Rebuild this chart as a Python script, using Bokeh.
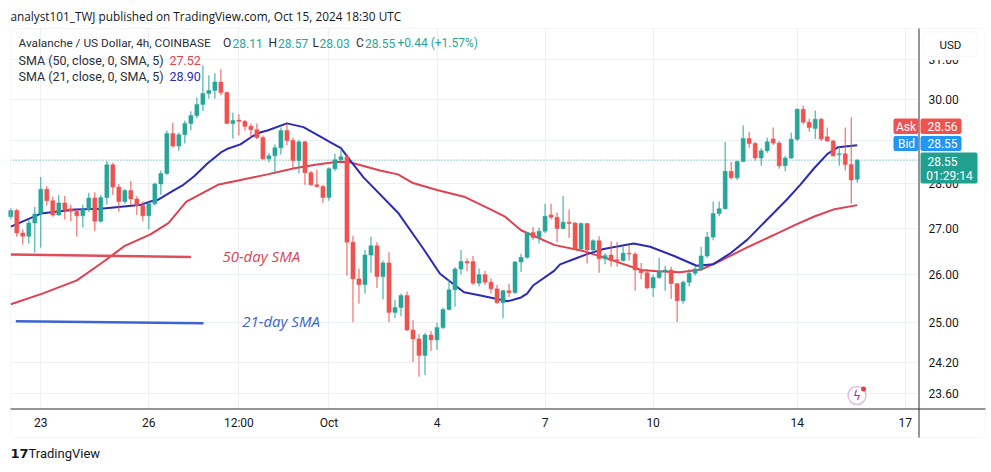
import math
import pandas as pd
from bokeh.plotting import figure
from bokeh.models import (ColumnDataSource, FixedTicker, PrintfTickFormatter, Label,
                          BoxAnnotation, Span, Range1d)
from bokeh.embed import file_html
from bokeh.resources import INLINE

# ---------------- data (AVAX/USD, 4h candles) ----------------
first_bar = "2024-09-22 04:00"

opens = [27.26, 27.40, 26.90, 26.83, 27.12, 27.32, 27.88, 27.62, 27.30, 27.57,
         27.44, 27.38, 27.28, 27.42, 27.68, 27.16, 27.69, 28.44, 27.93, 27.60,
         27.85, 27.66, 27.51, 27.28, 27.55, 28.00, 28.24, 29.18, 28.88, 29.15,
         29.42, 29.61, 29.88, 30.15, 30.22, 30.43, 30.17, 29.42, 29.50, 29.47,
         29.35, 29.27, 29.08, 28.58, 28.65, 28.84, 29.25, 29.01, 28.54, 28.98,
         28.26, 27.98, 27.94, 27.69, 28.35, 28.56, 28.63, 26.70, 25.91, 25.79,
         26.42, 26.62, 25.96, 26.25, 25.21, 25.31, 25.56, 24.85, 24.67, 24.34,
         24.75, 24.65, 24.90, 25.27, 25.68, 26.12, 26.28, 26.28, 25.82, 26.00,
         25.84, 25.70, 25.41, 25.66, 25.62, 26.27, 26.37, 26.91, 26.80, 26.94,
         27.30, 27.25, 27.00, 27.14, 27.12, 26.55, 27.11, 26.53, 26.73, 26.34,
         26.42, 26.32, 26.30, 26.46, 26.44, 26.10, 26.04, 25.72, 25.94, 26.08,
         26.10, 25.81, 25.45, 25.84, 26.03, 26.12, 26.40, 26.81, 27.33, 27.44,
         28.29, 28.14, 28.52, 29.06, 28.94, 28.60, 28.77, 29.05, 28.95, 28.42,
         28.60, 29.04, 29.76, 29.45, 29.30, 29.52, 29.10, 29.00, 28.68, 28.70,
         28.45, 28.11]

highs = [27.45, 27.44, 26.98, 27.20, 27.48, 28.16, 27.95, 27.71, 27.75, 27.73,
         27.53, 27.42, 27.53, 27.80, 27.81, 27.75, 28.53, 28.49, 28.00, 27.88,
         28.07, 27.72, 27.60, 27.60, 28.03, 28.31, 29.25, 29.43, 29.20, 29.49,
         29.71, 30.05, 30.85, 30.60, 30.65, 30.75, 30.20, 29.68, 29.64, 29.50,
         29.42, 29.42, 29.13, 28.72, 28.92, 29.32, 29.40, 29.08, 29.02, 29.00,
         28.30, 28.33, 27.98, 28.38, 28.70, 28.80, 28.70, 26.84, 26.13, 26.53,
         26.82, 26.70, 26.30, 26.48, 25.47, 25.60, 25.64, 25.05, 24.77, 24.79,
         24.83, 25.00, 25.31, 25.89, 26.16, 26.53, 26.35, 26.40, 26.13, 26.08,
         25.92, 25.78, 25.68, 25.81, 26.29, 26.45, 26.92, 27.03, 27.02, 27.55,
         27.55, 27.35, 27.73, 27.42, 27.14, 27.13, 27.12, 26.76, 26.83, 26.46,
         26.72, 26.70, 26.60, 26.62, 26.48, 26.25, 26.12, 26.00, 26.36, 26.19,
         26.17, 25.82, 25.87, 26.12, 26.19, 26.60, 26.92, 27.60, 27.60, 28.98,
         28.51, 28.54, 29.37, 29.22, 28.98, 28.83, 29.08, 29.32, 29.00, 28.65,
         29.20, 29.79, 29.85, 29.53, 29.73, 29.55, 29.32, 29.03, 28.87, 29.32,
         29.57, 28.57]

lows = [27.20, 26.82, 26.65, 26.67, 26.47, 26.58, 27.51, 27.26, 27.28, 27.20,
        27.16, 26.82, 27.02, 27.37, 26.94, 27.13, 27.53, 27.75, 27.37, 27.55,
        27.53, 27.30, 27.16, 26.98, 27.51, 27.75, 28.20, 28.84, 28.77, 28.94,
        29.25, 29.55, 29.72, 30.02, 30.02, 30.10, 29.40, 29.06, 29.13, 29.25,
        29.08, 29.04, 28.56, 28.50, 28.24, 28.68, 28.90, 28.35, 28.24, 27.98,
        27.95, 27.92, 27.57, 27.62, 28.30, 28.52, 25.98, 25.01, 25.39, 25.60,
        26.04, 25.72, 25.48, 25.01, 25.09, 25.13, 24.83, 24.21, 23.92, 23.95,
        24.43, 24.45, 24.87, 25.25, 25.33, 26.00, 26.08, 25.78, 25.75, 25.78,
        25.60, 25.39, 25.09, 25.53, 25.60, 26.06, 26.34, 26.75, 26.67, 26.90,
        27.20, 26.70, 26.98, 26.79, 26.53, 26.53, 26.24, 26.48, 26.04, 26.22,
        26.17, 26.17, 26.28, 26.30, 25.66, 25.90, 25.70, 25.53, 25.91, 25.66,
        25.49, 25.01, 25.39, 25.75, 25.98, 26.08, 26.36, 26.74, 27.27, 27.42,
        28.10, 28.09, 28.50, 28.84, 28.54, 28.42, 28.72, 28.90, 28.35, 28.29,
        28.58, 29.00, 29.40, 29.22, 29.05, 29.00, 28.98, 28.63, 28.42, 28.31,
        27.55, 28.03]

closes = [27.40, 26.90, 26.83, 27.12, 27.32, 27.88, 27.62, 27.30, 27.57, 27.40,
          27.38, 27.28, 27.42, 27.68, 27.16, 27.69, 28.44, 27.93, 27.60, 27.85,
          27.66, 27.51, 27.28, 27.55, 28.00, 28.24, 29.18, 28.88, 29.15, 29.42,
          29.61, 29.88, 30.15, 30.22, 30.43, 30.17, 29.42, 29.49, 29.47, 29.35,
          29.27, 29.08, 28.58, 28.65, 28.84, 29.25, 29.01, 28.54, 28.98, 28.26,
          27.98, 27.94, 27.69, 28.35, 28.56, 28.63, 26.70, 25.91, 25.79, 26.42,
          26.62, 25.96, 26.25, 25.21, 25.31, 25.56, 24.85, 24.67, 24.34, 24.75,
          24.65, 24.90, 25.27, 25.68, 26.12, 26.28, 26.25, 25.82, 26.00, 25.84,
          25.70, 25.41, 25.66, 25.62, 26.27, 26.37, 26.91, 26.80, 26.94, 27.27,
          27.25, 27.00, 27.14, 27.11, 26.55, 27.11, 26.53, 26.73, 26.34, 26.41,
          26.30, 26.30, 26.46, 26.44, 26.10, 26.04, 25.72, 25.94, 26.08, 26.10,
          25.81, 25.45, 25.84, 26.03, 26.12, 26.40, 26.81, 27.33, 27.44, 28.29,
          28.14, 28.52, 29.06, 28.94, 28.60, 28.77, 28.98, 28.95, 28.42, 28.60,
          29.04, 29.76, 29.45, 29.32, 29.52, 29.05, 29.00, 28.65, 28.70, 28.45,
          28.09, 28.55]

sma21_times = ["2024-09-22 04:00", "2024-09-23 00:00", "2024-09-23 23:00", "2024-09-24 16:00",
               "2024-09-25 19:00", "2024-09-26 01:00", "2024-09-26 06:00", "2024-09-26 16:00",
               "2024-09-26 23:00", "2024-09-27 06:00", "2024-09-27 15:00", "2024-09-28 00:00",
               "2024-09-28 04:00", "2024-09-28 13:00", "2024-09-28 20:00", "2024-09-29 02:00",
               "2024-09-29 07:00", "2024-09-29 20:00", "2024-09-30 07:00", "2024-09-30 21:00",
               "2024-10-01 01:00", "2024-10-01 08:00", "2024-10-01 14:00", "2024-10-01 23:00",
               "2024-10-02 22:00", "2024-10-03 15:00", "2024-10-04 02:00", "2024-10-04 18:00",
               "2024-10-05 05:00", "2024-10-05 16:00", "2024-10-05 23:00", "2024-10-06 08:00",
               "2024-10-06 12:00", "2024-10-06 16:00", "2024-10-07 06:00", "2024-10-07 10:00",
               "2024-10-07 19:00", "2024-10-08 04:00", "2024-10-08 15:00", "2024-10-09 11:00",
               "2024-10-09 22:00", "2024-10-10 14:00", "2024-10-11 05:00", "2024-10-11 16:00",
               "2024-10-12 04:00", "2024-10-12 15:00", "2024-10-13 04:00", "2024-10-13 17:00",
               "2024-10-14 02:00", "2024-10-14 11:00", "2024-10-14 20:00", "2024-10-15 03:00",
               "2024-10-15 16:00"]
sma21_vals = [27.04, 27.33, 27.42, 27.44, 27.53, 27.60, 27.64, 27.84,
              27.98, 28.17, 28.47, 28.73, 28.81, 28.92, 29.09, 29.20,
              29.25, 29.42, 29.33, 29.05, 28.97, 28.83, 28.55, 28.15,
              27.35, 26.55, 26.02, 25.63, 25.56, 25.49, 25.44, 25.52,
              25.60, 25.77, 26.08, 26.22, 26.33, 26.44, 26.55, 26.67,
              26.60, 26.40, 26.19, 26.22, 26.47, 26.76, 27.20, 27.64,
              27.98, 28.35, 28.69, 28.85, 28.90]

sma50_times = ["2024-09-22 04:00", "2024-09-23 01:00", "2024-09-24 00:00", "2024-09-24 17:00",
               "2024-09-25 01:00", "2024-09-25 08:00", "2024-09-26 01:00", "2024-09-26 13:00",
               "2024-09-27 01:00", "2024-09-27 22:00", "2024-09-28 13:00", "2024-09-29 07:00",
               "2024-09-30 01:00", "2024-09-30 16:00", "2024-10-01 06:00", "2024-10-01 14:00",
               "2024-10-02 10:00", "2024-10-02 22:00", "2024-10-03 08:00", "2024-10-04 00:00",
               "2024-10-04 18:00", "2024-10-05 12:00", "2024-10-05 21:00", "2024-10-06 08:00",
               "2024-10-07 06:00", "2024-10-08 02:00", "2024-10-08 15:00", "2024-10-09 16:00",
               "2024-10-10 03:00", "2024-10-10 18:00", "2024-10-11 08:00", "2024-10-11 23:00",
               "2024-10-12 15:00", "2024-10-13 08:00", "2024-10-13 22:00", "2024-10-14 11:00",
               "2024-10-15 00:00", "2024-10-15 16:00"]
sma50_vals = [25.38, 25.60, 25.88, 26.26, 26.45, 26.62, 26.87, 27.12,
              27.60, 27.98, 28.09, 28.22, 28.36, 28.45, 28.51, 28.50,
              28.31, 28.22, 28.02, 27.86, 27.71, 27.42, 27.27, 26.96,
              26.64, 26.50, 26.37, 26.10, 26.07, 26.05, 26.11, 26.33,
              26.59, 26.85, 27.07, 27.26, 27.42, 27.52]

# drawn trend lines (annotations on the chart)
line50_times = ["2024-09-22 04:00", "2024-09-27 04:00"]
line50_vals = [26.43, 26.38]
line21_times = ["2024-09-22 07:20", "2024-09-27 12:25"]
line21_vals = [25.03, 24.99]
label50_pos = ("2024-09-28 01:00", 26.40)
label21_pos = ("2024-09-28 14:10", 25.04)

last_price = 28.55
y_ticks = [23.6, 24.2, 25.0, 26.0, 27.0, 28.0, 29.0, 30.0, 31.0]
x_tick_dates = ["2024-09-23", "2024-09-26", "2024-09-28 12:00", "2024-10-01",
                "2024-10-04", "2024-10-07", "2024-10-10", "2024-10-14", "2024-10-17"]
x_tick_labels = ["23", "26", "12:00", "Oct", "4", "7", "10", "14", "17"]

# ---------------- layout / styling ----------------
UP, DOWN = "#26a69a", "#ef5350"
SMA50_C, SMA21_C = "#e0404f", "#2b2bb5"
TXT = "#131722"
GRAY_TXT = "#2a2e39"
W, H = 991, 472

# pixel geometry of the pane (page pixels)
BAR_MS = 4 * 3600 * 1000
PX_PER_BAR = 6.003     # horizontal spacing of 4h bars
X_FIRST = 10.3         # x of the first bar
P_REF, Y_REF, PX_PER_LN = 30.0, 99.0, 1224.0   # log price scale


def ms(s):
    return pd.Timestamp(s).value / 1e6


T0 = ms(first_bar)


def px_x(X):
    return T0 + (X - X_FIRST) / PX_PER_BAR * BAR_MS


def px_y(Y):
    return P_REF * math.exp(-(Y - Y_REF) / PX_PER_LN)


times = pd.date_range(first_bar, periods=len(opens), freq="4h")
colors = [UP if c >= o else DOWN for o, c in zip(opens, closes)]
src = ColumnDataSource(dict(
    t=times, h=highs, l=lows,
    top=[max(o, c) for o, c in zip(opens, closes)],
    bot=[min(o, c) for o, c in zip(opens, closes)],
    col=colors))

p = figure(width=W, height=H, x_axis_type="datetime", y_axis_type="log",
           x_range=Range1d(px_x(0), px_x(W)), y_range=Range1d(px_y(H), px_y(0)),
           y_axis_location="right", toolbar_location=None, output_backend="svg",
           min_border_left=0, min_border_right=0, min_border_top=0, min_border_bottom=0)
p.title.visible = False
p.outline_line_color = None
p.background_fill_color = "white"
p.border_fill_color = "white"

# axes (pinned to the pane edges)
p.xaxis.ticker = FixedTicker(ticks=[ms(d) for d in x_tick_dates])
p.xaxis.major_label_overrides = {ms(d): s for d, s in zip(x_tick_dates, x_tick_labels)}
p.yaxis.ticker = FixedTicker(ticks=y_ticks)
p.yaxis.formatter = PrintfTickFormatter(format="%.2f")
p.xaxis.fixed_location = px_y(408)
p.yaxis.fixed_location = px_x(918)
for ax in (p.xaxis[0], p.yaxis[0]):
    ax.axis_line_color = None
    ax.major_tick_line_color = None
    ax.minor_tick_line_color = None
    ax.major_tick_out = 0
    ax.major_tick_in = 0
    ax.major_label_text_font = "Roboto"
    ax.major_label_text_font_size = "12px"
    ax.major_label_text_color = TXT
p.yaxis.major_label_standoff = 10
p.xaxis.major_label_standoff = 7
p.grid.grid_line_color = "#edf0f5"
p.grid.grid_line_width = 1


def box(x0, y0, x1, y1, fill, line=None, radius=0, lw=1, level="annotation"):
    p.add_layout(BoxAnnotation(left=x0, right=x1, top=H - y0, bottom=H - y1,
                               left_units="screen", right_units="screen",
                               top_units="screen", bottom_units="screen",
                               fill_color=fill if fill else "white", fill_alpha=1 if fill else 0,
                               line_color=line, line_width=lw, border_radius=radius,
                               level=level))


def lab(text, x, y, color=TXT, size="12px", font="Roboto", align="left", style="normal"):
    p.add_layout(Label(x=x, y=H - y, x_units="screen", y_units="screen", text=text,
                       text_color=color, text_font=font, text_font_size=size,
                       text_align=align, text_baseline="middle", text_font_style=style))


# current price dotted line (underlay, trimmed by the margin strips)
p.add_layout(Span(location=last_price, dimension="width", line_color=UP,
                  line_dash="1 2", line_width=1, level="underlay"))

# white strips outside the price pane hide the grid there
box(0, 0, W, 28, "white", level="underlay")
box(0, 408, W, H, "white", level="underlay")
box(0, 0, 10, H, "white", level="underlay")
box(918, 0, W, H, "white", level="underlay")

# SMA lines
p.line(x=pd.to_datetime(sma50_times), y=sma50_vals, line_color=SMA50_C, line_width=2)
p.line(x=pd.to_datetime(sma21_times), y=sma21_vals, line_color=SMA21_C, line_width=2)

# candles
p.segment(x0="t", y0="l", x1="t", y1="h", line_color="col", line_width=1, source=src)
p.vbar(x="t", width=BAR_MS * 0.68, top="top", bottom="bot",
       fill_color="col", line_color="col", line_width=0.5, source=src)

# drawn annotation lines and labels
p.line(x=pd.to_datetime(line50_times), y=line50_vals, line_color="#e04c5c", line_width=2.5)
p.line(x=pd.to_datetime(line21_times), y=line21_vals, line_color="#3d63d6", line_width=2.5)
p.add_layout(Label(x=ms(label50_pos[0]), y=label50_pos[1], text="50-day SMA",
                   text_color="#d9465a", text_font="Open Sans", text_font_size="15px",
                   text_font_style="italic", text_baseline="middle"))
p.add_layout(Label(x=ms(label21_pos[0]), y=label21_pos[1], text="21-day SMA",
                   text_color="#3a62d0", text_font="Open Sans", text_font_size="15px",
                   text_font_style="italic", text_baseline="middle"))

# pane border and axis lines
box(10, 28, 985, 437, None, line="#e0e3eb", radius=4)
box(10, 408, 985, 409, "#2a2e39")
box(918, 28, 919, 437, "#2a2e39")

# price boxes on the right axis
box(923, 31.5, 977, 59.5, "white")
box(923, 31.5, 977, 56, "white", line="#e0e3eb", radius=4)
lab("USD", 950, 44, size="11.5px", align="center")
box(893, 118, 918, 133.5, "#ef5350", radius=2)
box(920, 118, 961, 133.5, "#ef5350", radius=2)
box(893, 135.5, 918, 150.5, "#2196f3", radius=2)
box(920, 135.5, 961, 150.5, "#2196f3", radius=2)
box(920, 152, 977, 183, "#22a08f", radius=2)
lab("Ask", 905.5, 126, "white", align="center")
lab("28.56", 942, 126, "white", align="center")
lab("Bid", 906, 143, "white", align="center")
lab("28.55", 942, 143, "white", align="center")
lab("28.55", 942, 160.5, "white", align="center")
lab("01:29:14", 949, 175, "white", align="center")

# header texts
lab("analyst101_TWJ published on TradingView.com, Oct 15, 2024 18:30 UTC", 10, 15,
    TXT, size="11.8px", font="Open Sans")
lab("Avalanche / US Dollar, 4h, COINBASE", 18, 42.5, GRAY_TXT, size="11.8px")
for t_, x_, c_ in [("O", 222.5, GRAY_TXT), ("28.11", 232, UP), ("H", 268, GRAY_TXT),
                   ("28.57", 277.5, UP), ("L", 312, GRAY_TXT), ("28.03", 319, UP),
                   ("C", 355.5, GRAY_TXT), ("28.55", 364.5, UP), ("+0.44 (+1.57%)", 397, UP)]:
    lab(t_, x_, 42.5, c_, size="12px")
lab("SMA (50, close, 0, SMA, 5)", 18, 59.5, GRAY_TXT, size="12.5px")
lab("27.52", 169, 59.5, SMA50_C, size="12.5px")
lab("SMA (21, close, 0, SMA, 5)", 18, 76, GRAY_TXT, size="12.5px")
lab("28.90", 169, 76, SMA21_C, size="12.5px")

# lightning icon (circle badge with a red dot)
box(847.5, 386, 865.5, 404, "white", line="#9c27b0", radius=9, lw=1.5)
lab("ϟ", 856.5, 395.5, "#9c27b0", size="12px", font="DejaVu Sans", align="center")
box(860.5, 386, 865.5, 391, "#f23645", radius=3)

# TradingView logo
lab("17", 10, 453, TXT, size="13px", font="DejaVu Sans", style="bold")
lab("TradingView", 28, 453, TXT, size="13px", font="Roboto")

open("out.html", "w").write(file_html(p, INLINE))
